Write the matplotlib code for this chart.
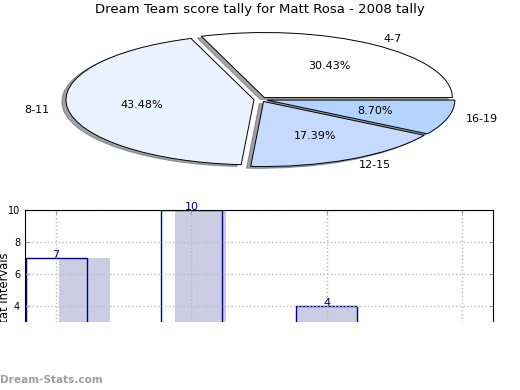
import matplotlib.pyplot as plt
from matplotlib.patches import Rectangle

# данные круговой диаграммы
pie_labels = ['4-7', '8-11', '12-15', '16-19']
pie_values = [7, 10, 4, 2]
pie_colors = ['#ffffff', '#eaf1ff', '#c6d9ff', '#b3d4ff']

# данные столбцов
bar_pos = [0, 1, 2]
bar_values = [7, 10, 4]
# сдвиг и ширина закрашенных столбцов (оформление)
shade_shift = [0.21, 0.07, 0.0]
shade_width = [0.38, 0.38, 0.45]

fig = plt.figure(figsize=(5.2, 3.9), dpi=100)
fig.suptitle('Dream Team score tally for Matt Rosa - 2008 tally',
             y=1 - 10 / 390, va='center', fontsize=9.5)

# круговая диаграмма
ax1 = fig.add_axes([0.049, 0.5365, 0.904, 0.417])
ax1.pie(pie_values, labels=pie_labels, colors=pie_colors,
        explode=[0.035] * 4, shadow={'ox': -0.016, 'oy': -0.02},
        autopct='%.2f%%', startangle=0, counterclock=True,
        wedgeprops={'edgecolor': 'black', 'linewidth': 0.7},
        textprops={'fontsize': 8})
ax1.set_aspect('auto')
ax1.set_xlim(-1.25, 1.25)
ax1.set_ylim(-1.25, 1.25)

# столбчатая диаграмма
ax2 = fig.add_axes([0.048, 20 / 390, 0.9, 160 / 390])
ax2.bar([p + s for p, s in zip(bar_pos, shade_shift)], bar_values,
        width=shade_width, color='#ccccE4', linewidth=0, zorder=1)
ax2.bar(bar_pos, bar_values, width=0.45, fill=False,
        edgecolor='#000080', linewidth=1, zorder=2)
for p, v in zip(bar_pos, bar_values):
    ax2.text(p, v - 0.1, str(v), ha='center', va='bottom',
             color='#000080', fontsize=8)
ax2.set_xlim(-0.23, 3.23)
ax2.set_ylim(0, 10)
ax2.set_xticks([0, 1, 2, 3])
ax2.set_xticklabels([])
ax2.set_yticks([0, 2, 4, 6, 8, 10])
ax2.set_ylabel('Stat Intervals', fontsize=8.3)
ax2.yaxis.set_label_coords(-0.03, 0.49)
ax2.tick_params(labelsize=7, direction='in', length=3, color='#999999',
                top=True, right=True)
ax2.set_axisbelow(False)
ax2.grid(True, linestyle=':', color='#bbbbbb', linewidth=1, zorder=3)
for s in ax2.spines.values():
    s.set_zorder(4)

# белая заплатка снизу, как на картинке
fig.patches.append(Rectangle((0, 0), 1, 68 / 390, transform=fig.transFigure,
                             facecolor='white', edgecolor='none', zorder=10))
fig.text(0.0, 10 / 390, 'Dream-Stats.com', fontsize=7.6, fontweight='bold',
         color='#a0a0a0', va='center', ha='left', zorder=11)

plt.savefig('out.png')
